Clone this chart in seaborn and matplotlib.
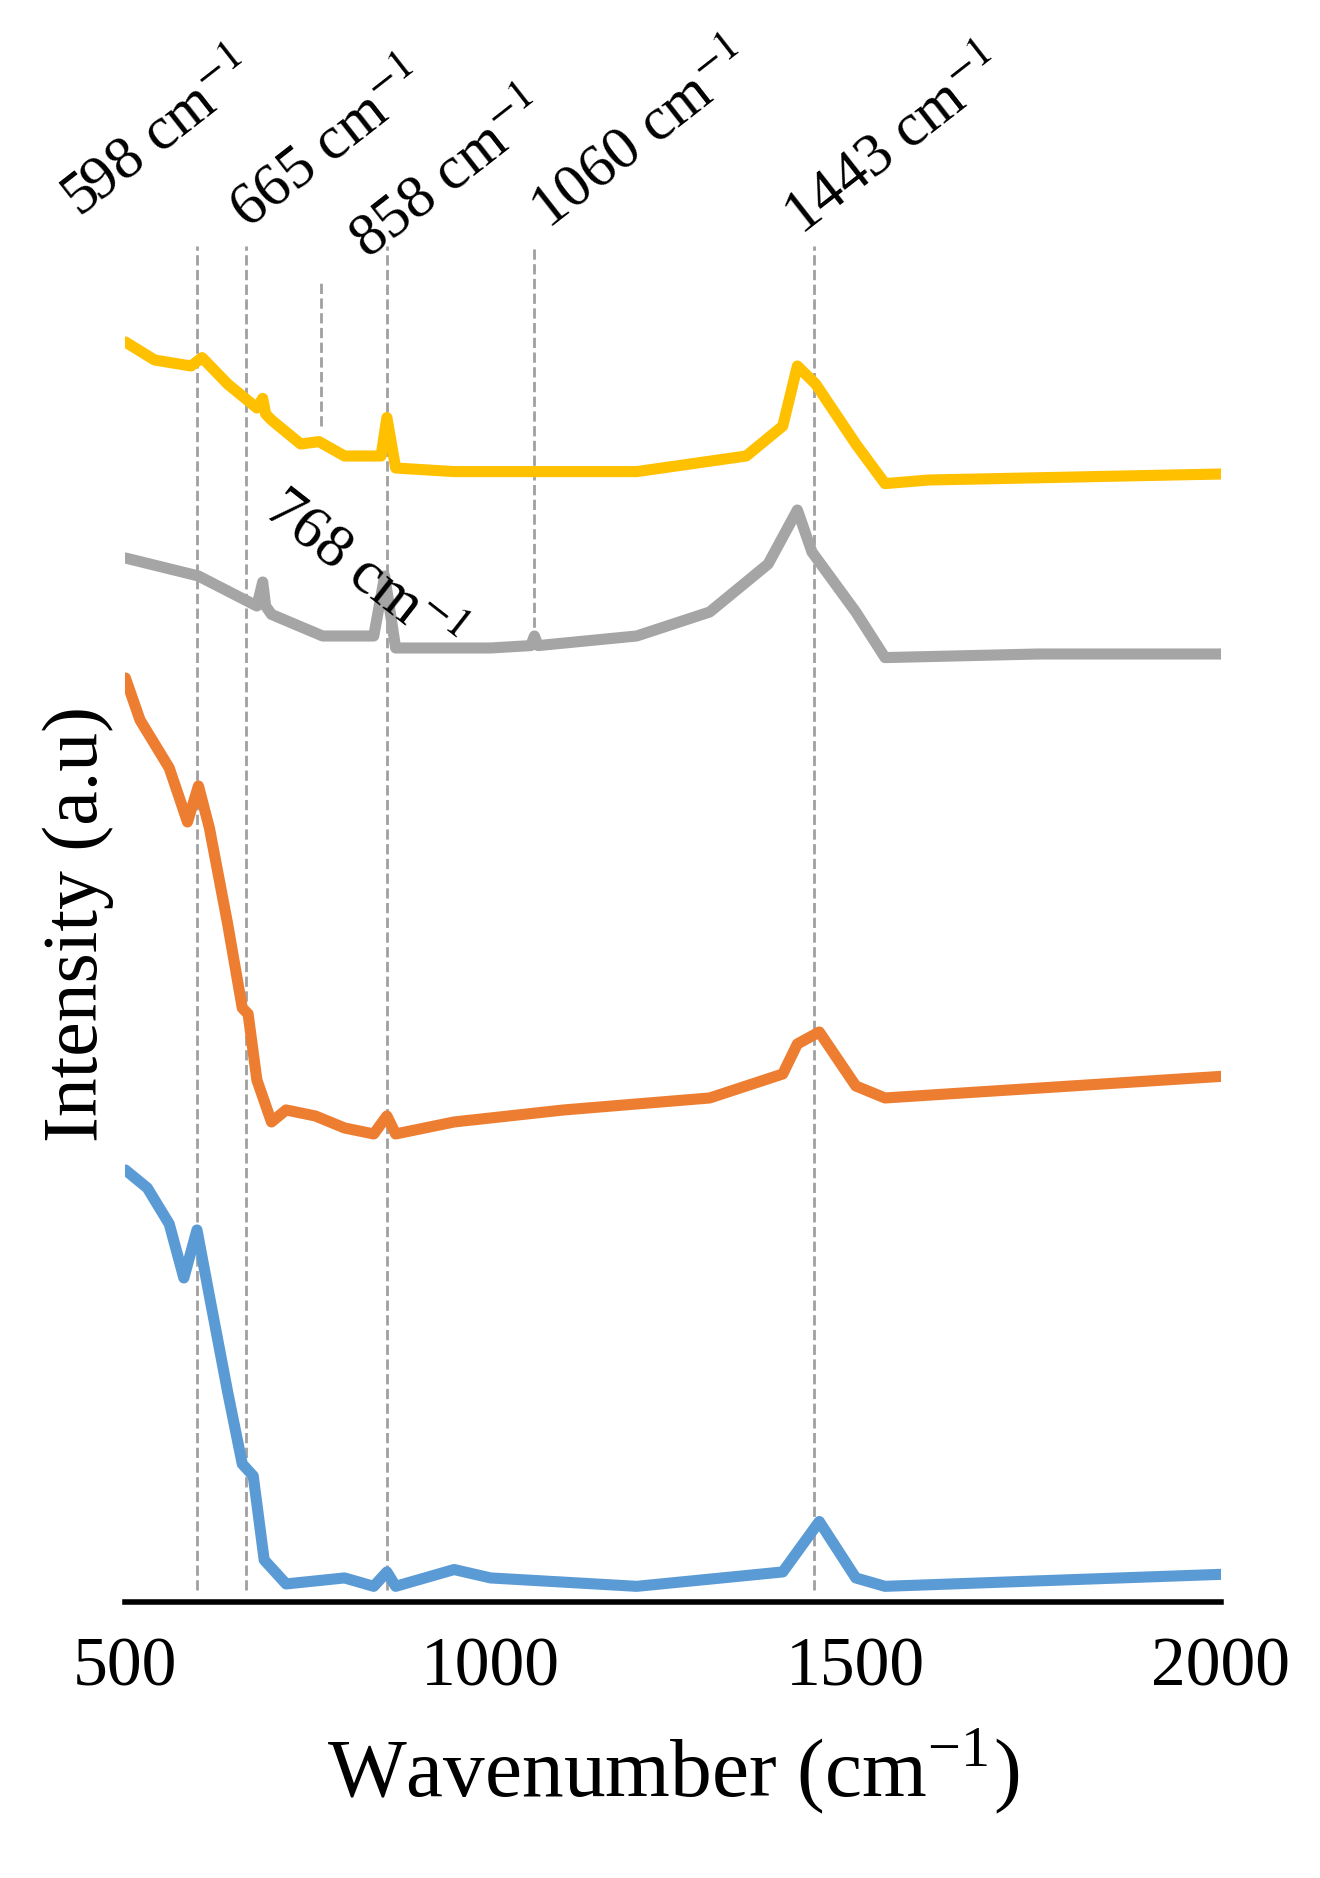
import pandas as pd
import matplotlib
matplotlib.use("Agg")
import matplotlib.pyplot as plt
import seaborn as sns

# spectra (arbitrary intensity units, offset stacked)
yellow_x = [500, 540, 590, 605, 640, 680, 688, 692, 700, 740, 765, 800, 850, 858, 870, 950, 1200, 1350, 1400, 1420, 1445, 1500, 1540, 1600, 2000]
yellow_y = [1050, 1035, 1030, 1037, 1015, 995, 1003, 990, 985, 965, 967, 955, 955, 987, 945, 942, 942, 955, 980, 1030, 1015, 965, 932, 935, 940]

gray_x = [500, 600, 680, 688, 692, 700, 770, 840, 855, 870, 1000, 1055, 1060, 1065, 1200, 1300, 1380, 1420, 1440, 1500, 1540, 1750, 2000]
gray_y = [870, 855, 830, 850, 830, 823, 805, 805, 855, 795, 795, 797, 805, 797, 805, 825, 865, 910, 875, 825, 787, 790, 790]

orange_x = [500, 520, 560, 585, 600, 615, 640, 660, 668, 680, 700, 720, 760, 800, 840, 858, 870, 950, 1100, 1300, 1400, 1420, 1450, 1500, 1540, 2000]
orange_y = [770, 735, 695, 650, 680, 645, 565, 495, 490, 435, 400, 410, 405, 395, 390, 405, 390, 400, 410, 420, 440, 465, 475, 430, 420, 438]

blue_x = [500, 530, 560, 580, 598, 615, 640, 660, 675, 690, 720, 800, 840, 858, 870, 950, 1000, 1200, 1400, 1450, 1500, 1540, 2000]
blue_y = [360, 345, 315, 270, 310, 255, 175, 115, 105, 35, 15, 20, 13, 25, 13, 27, 20, 13, 25, 67, 20, 13, 23]

peaks = [598, 665, 858, 1060, 1443]
peak_bottom = [10, 10, 10, 800, 10]
peak_labels = ["598 cm$^{-1}$", "665 cm$^{-1}$", "858 cm$^{-1}$", "1060 cm$^{-1}$", "1443 cm$^{-1}$"]
label_x = [448, 678, 842, 1090, 1436]
label_y = [1145, 1135, 1110, 1135, 1130]

sns.set_style("white")
plt.rcParams["font.family"] = ["Liberation Serif", "DejaVu Serif"]
plt.rcParams["mathtext.fontset"] = "stix"
plt.rcParams["text.color"] = "black"

fig = plt.figure(figsize=(13.2, 18.78), dpi=100)
ax = fig.add_axes([0.095, 0.147, 0.83, 0.722])

series = [(yellow_x, yellow_y, "#FFC000"), (gray_x, gray_y, "#A5A5A5"),
          (orange_x, orange_y, "#ED7D31"), (blue_x, blue_y, "#5B9BD5")]
for xs, ys, c in series:
    df = pd.DataFrame({"x": xs, "y": ys})
    sns.lineplot(data=df, x="x", y="y", ax=ax, color=c, lw=8, sort=False,
                 solid_joinstyle="round", solid_capstyle="round")

for p, b in zip(peaks, peak_bottom):
    ax.plot([p, p], [b, 1130], ls="--", color="#A0A0A0", lw=2, zorder=0)
ax.plot([768, 768], [980, 1100], ls="--", color="#A0A0A0", lw=2, zorder=0)

for t, x, y in zip(peak_labels, label_x, label_y):
    ax.text(x, y, t, rotation=38, rotation_mode="anchor", ha="left", va="bottom",
            fontsize=44, color="black", clip_on=False)
ax.text(722, 935, "768 cm$^{-1}$", rotation=-38, rotation_mode="anchor", ha="left",
        va="top", fontsize=44, color="black", clip_on=False)

ax.set_xlim(500, 2000)
ax.set_ylim(0, 1130)
ax.set_xticks([500, 1000, 1500, 2000])
ax.set_yticks([])
for s in ["top", "right", "left"]:
    ax.spines[s].set_visible(False)
ax.spines["bottom"].set_linewidth(4)
ax.spines["bottom"].set_color("black")
ax.tick_params(axis="x", labelsize=50, length=0, pad=25, labelcolor="black")
ax.set_xlabel("Wavenumber (cm$^{\\mathregular{-1}}$)", fontsize=60, labelpad=20, color="black")
ax.set_ylabel("Intensity (a.u)", fontsize=56, labelpad=8, color="black")

fig.savefig("out.png", dpi=100)
